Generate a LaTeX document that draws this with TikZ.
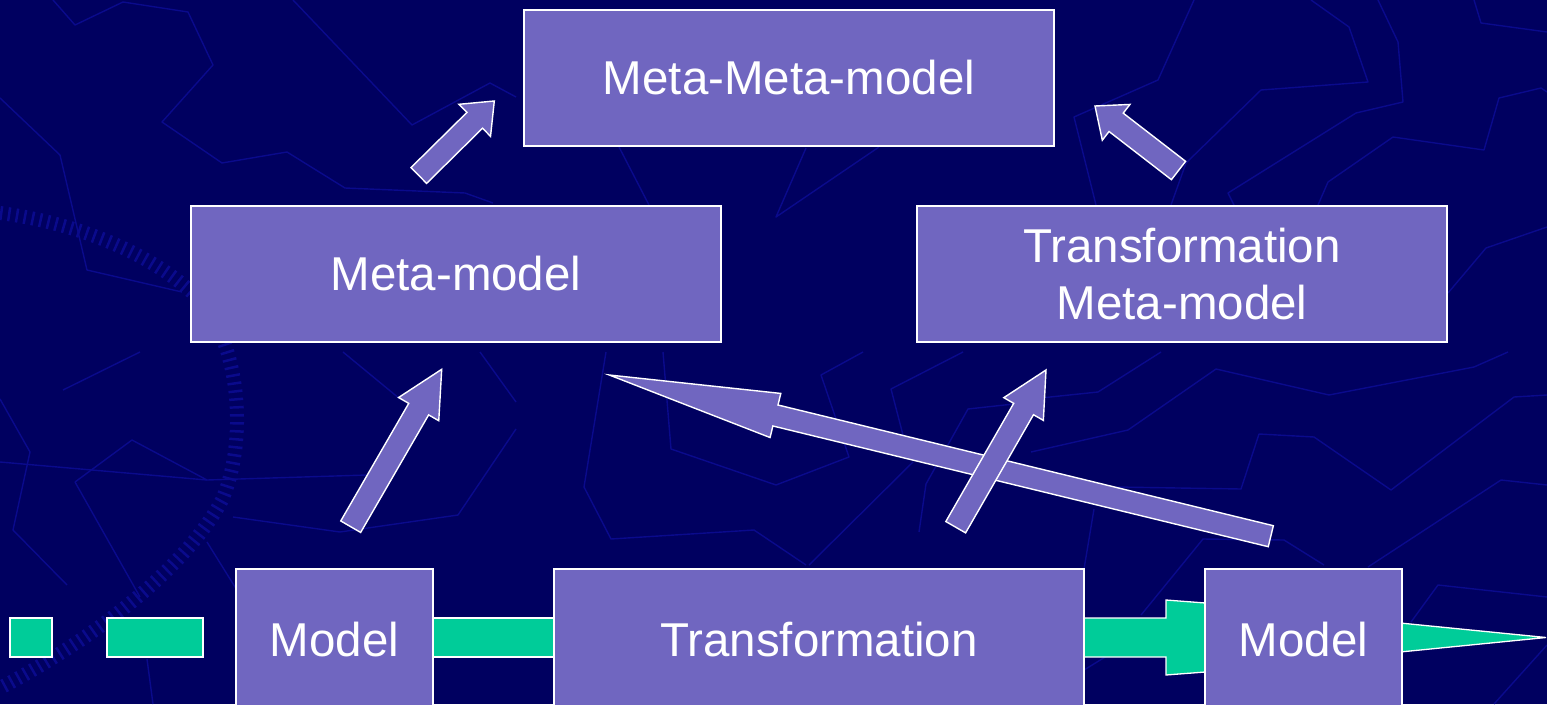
\documentclass[tikz,border=0pt]{standalone}
\usepackage{fontspec}
\setmainfont{Liberation Sans}
\usetikzlibrary{calc}
\definecolor{bgnavy}{RGB}{0,0,96}
\definecolor{maplinecol}{RGB}{10,10,140}
\definecolor{boxfill}{RGB}{112,102,192}
\definecolor{bargreen}{RGB}{0,204,153}
\newcommand\BlockArr[5]{%
  \coordinate (ba-h) at ($(#2)!#5!(#1)$);
  \draw[arrowshape] ($(#1)!#3!90:(#2)$) -- ($(ba-h)!#3!90:(#2)$) -- ($(ba-h)!#4!90:(#2)$) -- (#2)
     -- ($(ba-h)!#4!-90:(#2)$) -- ($(ba-h)!#3!-90:(#2)$) -- ($(#1)!#3!-90:(#2)$) -- cycle;}
\tikzset{
  box/.style={rectangle, draw=white, line width=1.6pt, fill=boxfill, text=white, inner sep=0pt, align=center},
  arrowshape/.style={draw=white, line width=1.4pt, fill=boxfill, line join=miter},
  greenshape/.style={draw=white, line width=1.3pt, fill=bargreen, line join=miter},
  mapline/.style={draw=maplinecol, line width=1.4pt, line join=round},
  hatchband/.style={draw=maplinecol, line width=14pt, dash pattern=on 2.5pt off 5.5pt},
}
\begin{document}
\begin{tikzpicture}[x=1pt, y=-1pt, font=\fontsize{47.5}{57}\selectfont]
\useasboundingbox (0,0) rectangle (1547,704);
\fill[bgnavy] (0,0) rectangle (1547,704);
% faint background map lines
\draw[mapline] (53,0) -- (75,25) -- (123,2) -- (188,12) -- (213,65) -- (162,122) -- (222,163) -- (287,152) -- (345,188) -- (465,193) -- (493,203);
\draw[mapline] (293,0) -- (412,125) -- (490,83) -- (516,97);
\draw[mapline] (0,98) -- (60,155) -- (87,270) -- (182,292);
\draw[mapline] (619,147) -- (649,205);
\draw[mapline] (806,148) -- (776,217) -- (879,147);
\draw[mapline] (1194,0) -- (1158,80) -- (1074,117) -- (1096,205);
\draw[mapline] (1311,0) -- (1349,27) -- (1368,82) -- (1261,90) -- (1186,163) -- (1171,205);
\draw[mapline] (1378,0) -- (1398,42) -- (1403,102) -- (1356,113) -- (1228,193) -- (1234,205);
\draw[mapline] (1474,0) -- (1481,23) -- (1547,32);
\draw[mapline] (1318,205) -- (1328,182) -- (1393,137) -- (1484,150) -- (1499,98) -- (1541,88) -- (1547,92);
\draw[mapline] (1448,293) -- (1486,248) -- (1547,227);
\draw[mapline] (63,390) -- (140,352);
\draw[mapline] (0,462) -- (207,480) -- (367,475);
\draw[mapline] (0,399) -- (30,452) -- (13,530) -- (67,585);
\draw[mapline] (75,482) -- (132,440) -- (207,480);
\draw[mapline] (75,482) -- (140,597);
\draw[mapline] (233,517) -- (340,532) -- (458,515) -- (516,429);
\draw[mapline] (343,352) -- (400,399);
\draw[mapline] (480,352) -- (516,402);
\draw[mapline] (207,542) -- (240,595);
\draw[mapline] (147,659) -- (153,704);
\draw[mapline] (606,352) -- (584,487) -- (611,539) -- (754,530) -- (806,565);
\draw[mapline] (663,352) -- (671,449) -- (776,485) -- (849,457) -- (821,375) -- (863,352);
\draw[mapline] (963,352) -- (891,389) -- (903,435);
\draw[mapline] (809,565) -- (913,462);
\draw[mapline] (919,532) -- (926,484) -- (968,409) -- (1032,402);
\draw[mapline] (1031,452) -- (1128,430) -- (1216,369) -- (1329,395) -- (1474,367) -- (1508,352);
\draw[mapline] (1031,399) -- (1098,392) -- (1161,352);
\draw[mapline] (1094,509) -- (1084,569);
\draw[mapline] (1116,487) -- (1241,489) -- (1259,434) -- (1314,437) -- (1391,490) -- (1514,397) -- (1547,395);
\draw[mapline] (1368,567) -- (1501,480) -- (1547,485);
\draw[mapline] (1141,615) -- (1203,539) -- (1284,540) -- (1324,565);
\draw[mapline] (1411,622) -- (1438,585) -- (1547,597);
\draw[mapline] (1494,704) -- (1547,645);
\draw[mapline] (1084,670) -- (1141,635);
\draw[hatchband] (0,213) .. controls (70,222) and (150,250) .. (200,300)
   .. controls (240,345) and (248,440) .. (222,500)
   .. controls (190,560) and (110,630) .. (0,688);
% boxes
\node[box, minimum width=530pt, minimum height=136pt] (mm) at (789,78) {Meta-Meta-model};
\node[box, minimum width=530pt, minimum height=136pt] (meta) at (456,274) {Meta-model};
\node[box, minimum width=530pt, minimum height=136pt] (tmeta) at (1182,274) {Transformation\\Meta-model};
% green flow (behind the bottom boxes)
\node[greenshape, rectangle, inner sep=0pt, minimum width=42pt, minimum height=39pt] (g1) at (31,637.5) {};
\node[greenshape, rectangle, inner sep=0pt, minimum width=96pt, minimum height=39pt] (g2) at (155,637.5) {};
\coordinate (m1e) at (433,639.5);
\coordinate (tre) at (1084,639.5);
\coordinate (wtip) at (1546,637.5);
\draw[greenshape] ($(m1e)+(0,-21.5)$) rectangle (556,657);
\draw[greenshape] ($(tre)+(0,-21.5)$) -- ++(82,0) -- ++(0,-18) -- (1217,603.9) -- (1217,671.1)
   -- ($(tre)+(82,35.5)$) -- ($(tre)+(82,17.5)$) -- ($(tre)+(0,17.5)$) -- cycle;
\draw[greenshape] (1390,622) -- (wtip) -- (1390,653) -- cycle;
\node[box, minimum width=197pt, minimum height=141pt] (m1) at (334.5,639.5) {Model};
\node[box, minimum width=530pt, minimum height=141pt] (tr) at (819,639.5) {Transformation};
\node[box, minimum width=197pt, minimum height=141pt] (m2) at (1303.5,639.5) {Model};
% block arrows
\coordinate (a5t) at (1270.8,536.2); \coordinate (a5h) at (609.3,375);
\BlockArr{a5t}{a5h}{10.8pt}{22.7pt}{171pt}
\coordinate (a1t) at (350.7,526.7); \coordinate (a1h) at (441.7,369.3);
\BlockArr{a1t}{a1h}{11.5pt}{23.2pt}{46pt}
\coordinate (a4t) at (955.7,527.2); \coordinate (a4h) at (1046,370);
\BlockArr{a4t}{a4h}{11.4pt}{22.8pt}{45pt}
\coordinate (a2t) at (418.8,175.5); \coordinate (a2h) at (494.3,101);
\BlockArr{a2t}{a2h}{11.1pt}{22.5pt}{27.5pt}
\coordinate (a3t) at (1178.5,170.5); \coordinate (a3h) at (1095,106);
\BlockArr{a3t}{a3h}{11.6pt}{22.6pt}{26.7pt}
\end{tikzpicture}
\end{document}
